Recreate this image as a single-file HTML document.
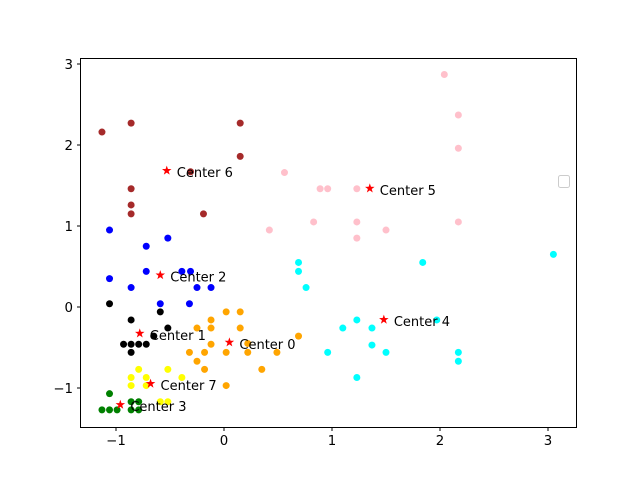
<!DOCTYPE html>
<html><head><meta charset="utf-8"><style>
html,body{margin:0;padding:0;background:#fff;}
svg{display:block;font-family:"DejaVu Sans","Liberation Sans",sans-serif;}
</style></head><body>
<svg id="chart" width="640" height="480" viewBox="0 0 640 480" xmlns="http://www.w3.org/2000/svg">
<rect x="0" y="0" width="640" height="480" fill="#fff"/>
<g id="ticks"></g>
<g id="points"></g>
<g id="centers"></g>
<rect x="80.5" y="58.5" width="496" height="369" fill="none" stroke="#000" stroke-width="1"/>
<rect x="558.5" y="175.5" width="11" height="12" rx="2" fill="#fff" stroke="#ccc" stroke-width="1"/>
</svg>
<script>
const xTicks = [-1, 0, 1, 2, 3];
const yTicks = [-1, 0, 1, 2, 3];
const clusterColors = ['#ffa500','#000000','#0000ff','#008000','#00ffff','#ffc0cb','#a52a2a','#ffff00'];
const c0x = [0.02,0.15,-0.12,-0.25,-0.12,0.15,0.69,-0.12,0.22,-0.32,-0.18,0.02,0.22,0.49,-0.25,-0.18,0.35,0.02];
const c0y = [-0.06,-0.06,-0.16,-0.26,-0.26,-0.26,-0.36,-0.46,-0.45,-0.56,-0.56,-0.56,-0.56,-0.56,-0.67,-0.77,-0.77,-0.97];
const c1x = [-1.06,-0.59,-0.86,-0.52,-0.65,-0.93,-0.86,-0.79,-0.72,-0.86];
const c1y = [0.04,-0.06,-0.16,-0.26,-0.36,-0.46,-0.46,-0.46,-0.46,-0.56];
const c2x = [-1.06,-0.52,-0.72,-0.72,-0.39,-0.31,-1.06,-0.86,-0.25,-0.12,-0.59,-0.32];
const c2y = [0.95,0.85,0.75,0.44,0.44,0.44,0.35,0.24,0.24,0.24,0.04,0.04];
const c3x = [-1.06,-0.86,-0.79,-1.13,-1.06,-0.99,-0.86,-0.79];
const c3y = [-1.07,-1.17,-1.17,-1.27,-1.27,-1.27,-1.27,-1.27];
const c4x = [0.69,0.69,1.84,3.05,0.76,1.23,1.97,1.10,1.37,1.37,0.96,1.50,2.17,2.17,1.23];
const c4y = [0.55,0.44,0.55,0.65,0.24,-0.16,-0.16,-0.26,-0.26,-0.47,-0.56,-0.56,-0.56,-0.67,-0.87];
const c5x = [2.04,2.17,2.17,0.56,0.89,0.96,1.23,0.83,1.23,2.17,0.42,1.50,1.23];
const c5y = [2.87,2.37,1.96,1.66,1.46,1.46,1.46,1.05,1.05,1.05,0.95,0.95,0.85];
const c6x = [-1.13,-0.86,0.15,0.15,-0.31,-0.86,-0.86,-0.86,-0.19];
const c6y = [2.16,2.27,2.27,1.86,1.67,1.46,1.26,1.15,1.15];
const c7x = [-0.79,-0.52,-0.39,-0.86,-0.72,-0.86,-0.72,-0.59,-0.52];
const c7y = [-0.77,-0.77,-0.87,-0.87,-0.87,-0.97,-0.97,-1.17,-1.17];
const centerLabels = ['Center 0','Center 1','Center 2','Center 3','Center 4','Center 5','Center 6','Center 7'];
const centerX = [0.05,-0.78,-0.59,-0.96,1.48,1.35,-0.53,-0.68];
const centerY = [-0.43,-0.32,0.40,-1.20,-0.15,1.47,1.69,-0.94];

const NS='http://www.w3.org/2000/svg';
function sx(v){return 224+v*108;}
function sy(v){return 307-v*81;}
function mk(tag,attrs,parent){const e=document.createElementNS(NS,tag);for(const k in attrs)e.setAttribute(k,attrs[k]);parent.appendChild(e);return e;}
const gT=document.getElementById('ticks'),gP=document.getElementById('points'),gC=document.getElementById('centers');
xTicks.forEach(t=>{
  const x=sx(t);
  const l=mk('line',{x1:x,x2:x,y1:427.5,y2:431,stroke:'#000'},gT);
  
  
  const tx=mk('text',{x:x,y:445,'font-size':'10pt','text-anchor':'middle',fill:'#000'},gT);
  tx.textContent=(t<0?'\u2212'+(-t):String(t));
  
  
});
yTicks.forEach(t=>{
  const y=sy(t);
  const l=mk('line',{x1:77,x2:80.5,y1:y,y2:y,stroke:'#000'},gT);
  
  
  const tx=mk('text',{x:73,y:y+5,'font-size':'10pt','text-anchor':'end',fill:'#000'},gT);
  tx.textContent=(t<0?'\u2212'+(-t):String(t));
  
  
});
const clustersX=[c0x,c1x,c2x,c3x,c4x,c5x,c6x,c7x];
const clustersY=[c0y,c1y,c2y,c3y,c4y,c5y,c6y,c7y];
clustersX.forEach((xs,ci)=>{
  xs.forEach((xv,i)=>{
    const c=mk('circle',{cx:sx(xv),cy:sy(clustersY[ci][i]),r:3.5,fill:clusterColors[ci]},gP);
    
    
  });
});
function starPath(cx,cy,R){
  const r=R*0.4;let d='';
  for(let i=0;i<10;i++){const a=-Math.PI/2+i*Math.PI/5;const rr=i%2?r:R;d+=(i?'L':'M')+(cx+rr*Math.cos(a)).toFixed(2)+' '+(cy+rr*Math.sin(a)).toFixed(2);}
  return d+'Z';
}
centerX.forEach((xv,i)=>{
  const x=sx(xv),y=sy(centerY[i]);
  const s=mk('path',{d:starPath(x,y+0.5,5),fill:'#ff0000'},gC);
  
  
  const t=mk('text',{x:x+10,y:y+7,'font-size':'13px',fill:'#000'},gC);
  t.textContent=centerLabels[i];
  
  
});
</script>
</body></html>
